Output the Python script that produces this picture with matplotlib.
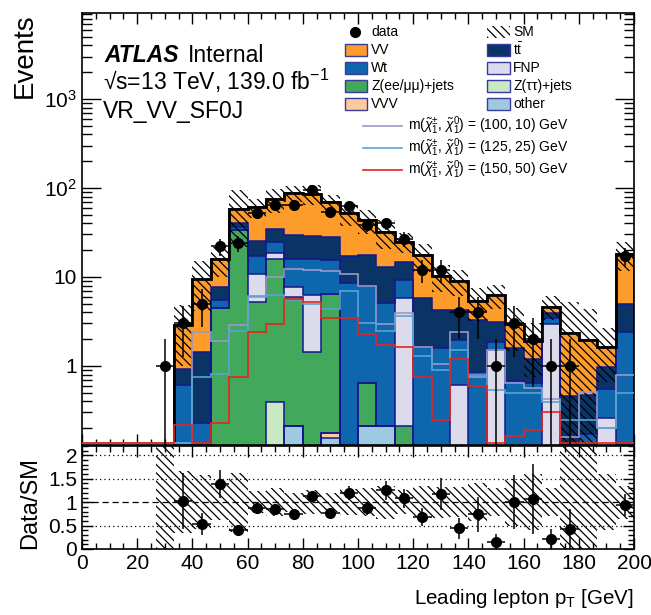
import numpy as np
import matplotlib
matplotlib.use("Agg")
import matplotlib.pyplot as plt
from matplotlib.patches import Rectangle
from matplotlib.lines import Line2D
from matplotlib.ticker import MultipleLocator, LogLocator, FuncFormatter, NullFormatter

plt.rcParams["font.family"] = ["Liberation Sans", "DejaVu Sans"]
plt.rcParams["mathtext.fontset"] = "custom"
plt.rcParams["mathtext.rm"] = "Liberation Sans"
plt.rcParams["mathtext.it"] = "Liberation Sans:italic"
plt.rcParams["mathtext.bf"] = "Liberation Sans:bold"
plt.rcParams["mathtext.sf"] = "Liberation Sans"
plt.rcParams["hatch.linewidth"] = 0.9
plt.rcParams["axes.linewidth"] = 1.2

# ---------------- binning: leading lepton pT, 30 bins 0-200 GeV ----------------
bin_edges = np.linspace(0.0, 200.0, 31)

data_counts = [0, 0, 0, 0, 1, 3, 5, 22, 24, 53, 64, 65, 96, 54, 62,
               38, 40, 27, 12, 12, 4, 4, 1, 3, 2, 1, 1, 0, 0, 17]

# background processes (stacked bottom -> top)
bkg_other = [0, 0, 0, 0, 0, 0, 0, 0, 0, 0, 0, 0.21, 0, 0.155, 0,
             0.21, 0.21, 0, 0, 0, 0, 0, 0, 0, 0, 0, 0, 0, 0, 0]
bkg_vvv = [0, 0, 0, 0, 0, 0, 0, 0, 0, 0, 0, 0, 0, 0.02, 0,
           0, 0, 0, 0, 0, 0, 0, 0, 0, 0, 0, 0, 0, 0, 0]
bkg_ztautau = [0, 0, 0, 0, 0, 0, 0, 0, 0, 0, 0.39, 0, 0, 0, 0,
               0, 0, 0, 0, 0, 0, 0, 0, 0, 0, 0, 0, 0, 0, 0]
bkg_zeemm = [0, 0, 0, 0, 0, 0, 0, 4.45, 33.7, 5.27, 15.4, 5.8, 1.43, 6.28, 0,
             0.43, 0, 0.21, 0, 0, 0, 0, 0, 0, 0, 0, 0, 0, 0, 0]
bkg_fnp = [0, 0, 0, 0, 0, 0, 0, 0, 0, 5.5, 2.6, 1.8, 4.84, 0, 0,
           0, 0, 5.56, 0, 0, 0.61, 0, 1.51, 0, 0, 2.96, 0, 0, 0.26, 0]
bkg_wt = [0, 0, 0, 0, 0.04, 0.61, 0.23, 1.05, 2.6, 6.4, 6.6, 8.1, 9.5, 9.05, 8.5,
          7.26, 4.85, 3.4, 1.65, 1.58, 1.35, 0.86, 0.37, 0.67, 0.64, 0.47, 0, 0.17, 0.29, 2.43]
bkg_ttbar = [0, 0, 0, 0, 0, 0.31, 1.2, 2.15, 4.4, 8.2, 9.2, 13.5, 13.2, 12.8, 8.5,
             9.7, 8.0, 5.6, 4.1, 2.7, 2.3, 2.4, 1.27, 0.91, 0.55, 0.54, 0.46, 0.3, 0.42, 2.54]
bkg_vv = [0, 0, 0, 0, 0, 2.0, 8.1, 8.25, 17.3, 35, 40.5, 57.6, 56.6, 41.3, 35,
          26, 18.9, 10.2, 11.8, 5.9, 4.84, 2.1, 3.12, 1.4, 0.7, 0.67, 1.91, 1.49, 0.68, 13.1]

# relative uncertainty on the total SM prediction
sm_rel_unc = [0, 0, 0, 0, 2.0, 0.66, 0.57, 0.37, 0.63, 0.23, 0.30, 0.20, 0.25, 0.20, 0.28,
              0.30, 0.35, 0.25, 0.35, 0.33, 0.32, 0.40, 0.30, 0.50, 0.60, 0.30, 1.20, 1.20, 0.60, 0.35]

# signal benchmarks
sig_100_10 = [0, 0, 0, 0, 0, 0, 2.43, 1.93, 2.9, 6.0, 9.9, 12.4, 12.1, 11.8, 10.7,
              7.9, 2.96, 3.9, 1.62, 1.05, 2.43, 0.76, 1.51, 0.64, 0.56, 0.42, 0.16, 0.51, 0.2, 0.8]
sig_125_25 = [0, 0, 0, 0, 0, 0, 0.76, 0.81, 2.47, 6.1, 6.3, 5.5, 5.0, 4.33, 7.0,
              3.0, 2.5, 3.6, 1.3, 0.9, 1.5, 0.8, 0.54, 0.5, 0.5, 0.39, 0.25, 0.25, 0.2, 0.5]
sig_150_50 = [0, 0, 0, 0, 0, 0.217, 0, 0.227, 0.76, 2.39, 2.94, 5.6, 5.27, 3.49, 3.49,
              2.29, 1.72, 1.62, 0.746, 0.247, 1.19, 0.596, 0, 0.165, 0.19, 0.306, 0, 0, 0, 0]

stack_names = ["other", "VVV", "Z(ττ)+jets", "Z(ee/μμ)+jets", "FNP", "Wt",
               r"t$\bar{\rm t}$", "VV"]
stack_vals = [bkg_other, bkg_vvv, bkg_ztautau, bkg_zeemm, bkg_fnp, bkg_wt, bkg_ttbar, bkg_vv]
stack_cols = ["#9ecae1", "#fdcb9b", "#c9e8c4", "#41a85c", "#dcdbeb", "#0e67ad", "#0b3466", "#fd9b2b"]
hist_edge = "#16168e"

sig_vals = [sig_100_10, sig_125_25, sig_150_50]
sig_cols = ["#9a98c9", "#5aa2d6", "#e8231c"]
sig_labels = [r"m($\tilde{\chi}_{1}^{\pm}$, $\tilde{\chi}_{1}^{0}$) = (100, 10) GeV",
              r"m($\tilde{\chi}_{1}^{\pm}$, $\tilde{\chi}_{1}^{0}$) = (125, 25) GeV",
              r"m($\tilde{\chi}_{1}^{\pm}$, $\tilde{\chi}_{1}^{0}$) = (150, 50) GeV"]

HATCH = "\\\\\\\\"

# ---------------- derived quantities ----------------
centers = 0.5 * (bin_edges[:-1] + bin_edges[1:])
widths = np.diff(bin_edges)
data = np.array(data_counts, dtype=float)
cum = np.cumsum(np.array(stack_vals, dtype=float), axis=0)
total = cum[-1]
rel = np.array(sm_rel_unc)

W, H = 651, 615
fig = plt.figure(figsize=(W / 100, H / 100), dpi=100)


def box(x0, y0, x1, y1):
    return [x0 / W, 1 - y1 / H, (x1 - x0) / W, (y1 - y0) / H]


ax = fig.add_axes(box(82, 13, 634, 444.5))
rax = fig.add_axes(box(82, 446, 634, 549))

ylo, yhi = 0.131, 9250.0
floor = 1e-3

# stacked backgrounds, drawn as cumulative histograms from the top level down
for k in reversed(range(len(stack_vals))):
    lvl = np.maximum(cum[k], floor)
    ax.stairs(lvl, bin_edges, baseline=floor, fill=True, facecolor=stack_cols[k],
              edgecolor="none", zorder=2)
    ax.stairs(lvl, bin_edges, baseline=floor, fill=False, color=hist_edge, lw=1.1, zorder=2.1)

# SM uncertainty band
m = total > 0
up = total * (1 + rel)
dn = np.maximum(total * (1 - rel), floor)
ax.bar(centers[m], (up - dn)[m], bottom=dn[m], width=widths[m], facecolor="none",
       edgecolor="black", linewidth=0, hatch=HATCH, zorder=3)
ax.stairs(np.maximum(total, floor), bin_edges, baseline=floor, fill=False,
          color="black", lw=2.0, zorder=3.5)

# signal benchmarks
for vals, c in zip(sig_vals, sig_cols):
    ax.stairs(np.maximum(np.array(vals), ylo * 1.04), bin_edges, baseline=None,
              color=c, lw=1.2, zorder=4)

# data
d = data > 0
derr = np.sqrt(data)
lo_err = data - np.maximum(data - derr, floor)
ax.errorbar(centers[d], data[d], xerr=widths[d] / 2, yerr=[lo_err[d], derr[d]],
            fmt="o", color="black", ms=7, lw=1.1, capsize=0, zorder=5)

ax.set_yscale("log")
ax.set_xlim(0, 200)
ax.set_ylim(ylo, yhi)
ax.xaxis.set_major_locator(MultipleLocator(20))
ax.xaxis.set_minor_locator(MultipleLocator(5))
ax.yaxis.set_major_locator(LogLocator(base=10, numticks=10))
ax.yaxis.set_minor_locator(LogLocator(base=10, subs=np.arange(2, 10), numticks=20))
ax.yaxis.set_minor_formatter(NullFormatter())


def log_label(v, _):
    if v < 0.5:
        return ""
    e = int(round(np.log10(v)))
    if e == 0:
        return "1"
    if e == 1:
        return "10"
    return r"$10^{%d}$" % e


ax.yaxis.set_major_formatter(FuncFormatter(log_label))
ax.tick_params(which="both", direction="in", top=True, right=True, labelbottom=False,
               labelsize=15, width=1.0)
ax.tick_params(axis="y", which="major", length=14)
ax.tick_params(axis="y", which="minor", length=7)
ax.tick_params(axis="x", which="major", length=8)
ax.tick_params(axis="x", which="minor", length=4)

# ratio panel
rm = (total > 0) & (rel > 0)
rax.bar(centers[rm], 2 * rel[rm], bottom=1 - rel[rm], width=widths[rm], facecolor="none",
        edgecolor="black", linewidth=0, hatch=HATCH, zorder=2)
for yv in (0.5, 1.5, 2.0):
    rax.axhline(yv, color="black", lw=0.9, ls=(0, (1, 2.5)), zorder=1)
rax.axhline(1.0, color="black", lw=0.9, ls=(0, (5, 3)), zorder=1)
ok = d & (total > 0.2)
ratio = np.where(ok, data / np.where(total > 0, total, 1), np.nan)
rerr = np.where(ok, derr / np.where(total > 0, total, 1), np.nan)
rax.errorbar(centers[ok], ratio[ok], xerr=widths[ok] / 2, yerr=rerr[ok], fmt="o",
             color="black", ms=7, lw=1.1, capsize=0, zorder=5)
rax.set_xlim(0, 200)
rax.set_ylim(0, 2.2)
rax.xaxis.set_major_locator(MultipleLocator(20))
rax.xaxis.set_minor_locator(MultipleLocator(5))
rax.yaxis.set_major_locator(MultipleLocator(0.5))
rax.yaxis.set_minor_locator(MultipleLocator(0.1))
rax.yaxis.set_major_formatter(FuncFormatter(lambda v, _: "%g" % v))
rax.tick_params(which="both", direction="in", top=True, right=True, labelsize=15, width=1.0)
rax.tick_params(which="major", length=8)
rax.tick_params(which="minor", length=4)

# axis titles
fig.text(25 / W, 1 - 13 / H, "Events", rotation=90, ha="center", va="top", fontsize=20)
fig.text(30 / W, 1 - 503 / H, "Data/SM", rotation=90, ha="center", va="center", fontsize=17)
fig.text(634 / W, 1 - 604 / H, r"Leading lepton p$_{\rm T}$ [GeV]", ha="right",
         va="baseline", fontsize=14.8)

# labels
fig.text(104 / W, 1 - 62 / H, "ATLAS", fontsize=16.5, weight="bold", style="italic",
         va="baseline")
fig.text(188 / W, 1 - 62 / H, "Internal", fontsize=16.5, va="baseline")
fig.text(103 / W, 1 - 90 / H, "√s=13 TeV, 139.0 fb$^{{-}1}$", fontsize=16.5,
         va="baseline")
fig.text(103 / W, 1 - 118 / H, "VR_VV_SF0J", fontsize=16.5, va="baseline")

# legend
leg_fs = 10
leg_edge = "#3a3a9c"
row_y = [32, 50, 68, 86, 104]
left_items = [None, 7, 5, 3, 1]     # data, VV, Wt, Z(ee/mumu), VVV
right_items = ["SM", 6, 4, 2, 0]    # SM, ttbar, FNP, Z(tautau), other

fig.add_artist(Line2D([355 / W], [1 - 32 / H], marker="o", color="black", ms=7,
                      transform=fig.transFigure))
fig.text(371 / W, 1 - 32 / H, "data", fontsize=leg_fs, va="center")
for y, k in zip(row_y[1:], left_items[1:]):
    fig.add_artist(Rectangle((345 / W, 1 - (y + 6) / H), 22 / W, 12 / H,
                             facecolor=stack_cols[k], edgecolor=leg_edge, lw=1.0,
                             transform=fig.transFigure))
    fig.text(371 / W, 1 - y / H, stack_names[k], fontsize=leg_fs, va="center")

fig.add_artist(Rectangle((487 / W, 1 - 38 / H), 23 / W, 12 / H, facecolor="none",
                         edgecolor="black", lw=0, hatch=HATCH, transform=fig.transFigure))
fig.text(513 / W, 1 - 32 / H, "SM", fontsize=leg_fs, va="center")
for y, k in zip(row_y[1:], right_items[1:]):
    fig.add_artist(Rectangle((487 / W, 1 - (y + 6) / H), 23 / W, 12 / H,
                             facecolor=stack_cols[k], edgecolor=leg_edge, lw=1.0,
                             transform=fig.transFigure))
    fig.text(513 / W, 1 - y / H, stack_names[k], fontsize=leg_fs, va="center")

for y, c, lab in zip([126, 148, 170], sig_cols, sig_labels):
    fig.add_artist(Line2D([363 / W, 402 / W], [1 - y / H, 1 - y / H], color=c, lw=1.2,
                          transform=fig.transFigure))
    fig.text(408 / W, 1 - y / H, lab, fontsize=leg_fs, va="center")

fig.savefig("out.png", dpi=100)
